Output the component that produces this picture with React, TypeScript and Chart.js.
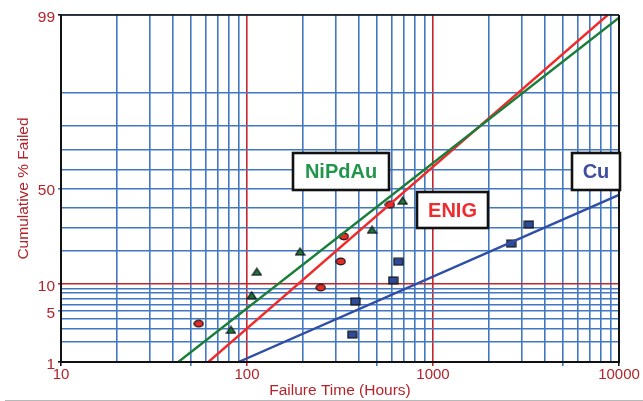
import React, { useEffect, useRef } from 'react';
import { Chart, registerables, LinearScale } from 'chart.js';

Chart.register(...registerables);

// ---------- data ----------
const xTickValues = [10, 20, 30, 40, 50, 60, 70, 80, 90, 100, 200, 300, 400, 500, 600, 700, 800, 900, 1000, 2000, 3000, 4000, 5000, 6000, 7000, 8000, 9000, 10000];
const xTickLabels = [10, 100, 1000, 10000];
const yTickValues = [1, 2, 3, 4, 5, 6, 7, 8, 9, 10, 20, 30, 40, 50, 60, 70, 80, 90, 99];
const yTickLabels = [1, 5, 10, 50, 99];

const nipdauTime = [82, 106, 113, 193, 470, 687];
const nipdauPct = [2.9, 7.6, 13.2, 19.9, 29.0, 43.5];
const enigTime = [55, 249, 319, 332, 587];
const enigPct = [3.5, 9.2, 16.4, 26.0, 41.4];
const cuTime = [368, 382, 610, 651, 2630, 3280];
const cuPct = [2.5, 6.5, 10.9, 16.3, 23.0, 31.5];

const nipdauFitTime = [42.7, 10000];
const nipdauFitPct = [1, 98.9];
const enigFitTime = [62, 8690];
const enigFitPct = [1, 99];
const cuFitTime = [90, 10000];
const cuFitPct = [1, 46.6];

// ---------- colours ----------
const GRID_BLUE = '#4278c2';
const GRID_RED = '#c4262e';
const LABEL_RED = '#b5232a';
const GREEN_LINE = '#1b7d3a';
const RED_LINE = '#f02a2a';
const BLUE_LINE = '#2f4fa6';
const FONT = "'Liberation Sans', Arial, sans-serif";

// ---------- normal probability helpers ----------
function probit(p: number): number {
  const a = [-3.969683028665376e1, 2.209460984245205e2, -2.759285104469687e2, 1.38357751867269e2, -3.066479806614716e1, 2.506628277459239];
  const b = [-5.447609879822406e1, 1.615858368580409e2, -1.556989798598866e2, 6.680131188771972e1, -1.328068155288572e1];
  const c = [-7.784894002430293e-3, -3.223964580411365e-1, -2.400758277161838, -2.549732539343734, 4.374664141464968, 2.938163982698783];
  const d = [7.784695709041462e-3, 3.224671290700398e-1, 2.445134137142996, 3.754408661907416];
  const pl = 0.02425;
  const ph = 1 - pl;
  if (p <= 0) return -8;
  if (p >= 1) return 8;
  let q: number, r: number;
  if (p < pl) {
    q = Math.sqrt(-2 * Math.log(p));
    return (((((c[0] * q + c[1]) * q + c[2]) * q + c[3]) * q + c[4]) * q + c[5]) / ((((d[0] * q + d[1]) * q + d[2]) * q + d[3]) * q + 1);
  }
  if (p <= ph) {
    q = p - 0.5;
    r = q * q;
    return ((((((a[0] * r + a[1]) * r + a[2]) * r + a[3]) * r + a[4]) * r + a[5]) * q) / (((((b[0] * r + b[1]) * r + b[2]) * r + b[3]) * r + b[4]) * r + 1);
  }
  q = Math.sqrt(-2 * Math.log(1 - p));
  return -(((((c[0] * q + c[1]) * q + c[2]) * q + c[3]) * q + c[4]) * q + c[5]) / ((((d[0] * q + d[1]) * q + d[2]) * q + d[3]) * q + 1);
}

function normCdf(z: number): number {
  const t = 1 / (1 + 0.3275911 * Math.abs(z) / Math.SQRT2);
  const y = 1 - (((((1.061405429 * t - 1.453152027) * t) + 1.421413741) * t - 0.284496736) * t + 0.254829592) * t * Math.exp(-(z * z) / 2);
  return z >= 0 ? 0.5 * (1 + y) : 0.5 * (1 - y);
}

// ---------- normal-probability (percent) scale ----------
class ProbitScale extends (LinearScale as any) {
  static id = 'probit';
  static defaults = {};
  _zStart = 0;
  _zRange = 1;
  determineDataLimits() {
    this.min = this.options.min;
    this.max = this.options.max;
  }
  buildTicks() {
    return yTickValues.map((v) => ({ value: v }));
  }
  configure() {
    super.configure();
    this._zStart = probit(this.min / 100);
    this._zRange = probit(this.max / 100) - this._zStart;
  }
  getPixelForValue(v: number) {
    if (v === null || v === undefined) return NaN;
    return this.getPixelForDecimal((probit(v / 100) - this._zStart) / this._zRange);
  }
  getValueForPixel(px: number) {
    return normCdf(this._zStart + this.getDecimalForPixel(px) * this._zRange) * 100;
  }
}
Chart.register(ProbitScale as any);

// ---------- marker images ----------
function makeMarker(shape: string, fill: string): HTMLCanvasElement {
  const cv = document.createElement('canvas');
  cv.width = 11;
  cv.height = 9;
  const g = cv.getContext('2d')!;
  g.fillStyle = fill;
  g.strokeStyle = '#111';
  g.lineWidth = 1.2;
  g.beginPath();
  if (shape === 'ellipse') {
    g.ellipse(5.5, 4.5, 4.6, 3.3, 0, 0, Math.PI * 2);
  } else if (shape === 'triangle') {
    g.moveTo(5.5, 1);
    g.lineTo(10, 7.8);
    g.lineTo(1, 7.8);
    g.closePath();
  } else {
    g.rect(1, 1.2, 9, 6.6);
  }
  g.fill();
  g.stroke();
  return cv;
}

const boxes = [
  { text: 'NiPdAu', color: '#21964a', x0: 293, y0: 153, x1: 389, y1: 190 },
  { text: 'ENIG', color: '#ee2b2f', x0: 417, y0: 192, x1: 488, y1: 228 },
  { text: 'Cu', color: '#3f4f9f', x0: 572, y0: 153, x1: 620, y1: 190 },
];

const decorPlugin = {
  id: 'decor',
  afterDatasetsDraw(chart: any) {
    const { ctx, chartArea: a } = chart;
    ctx.save();
    ctx.strokeStyle = '#111';
    ctx.lineWidth = 2;
    ctx.beginPath();
    ctx.moveTo(a.left, a.top);
    ctx.lineTo(a.left, a.bottom);
    ctx.lineTo(a.right, a.bottom);
    ctx.lineTo(a.right, a.top);
    ctx.stroke();
    ctx.lineWidth = 1.4;
    ctx.beginPath();
    ctx.moveTo(a.left, a.top);
    ctx.lineTo(a.right, a.top);
    ctx.stroke();

    for (const b of boxes) {
      ctx.fillStyle = '#fff';
      ctx.fillRect(b.x0, b.y0, b.x1 - b.x0, b.y1 - b.y0);
      ctx.lineWidth = 2.6;
      ctx.strokeStyle = '#111';
      ctx.strokeRect(b.x0, b.y0, b.x1 - b.x0, b.y1 - b.y0);
      ctx.fillStyle = b.color;
      ctx.font = `bold 20px ${FONT}`;
      ctx.textAlign = 'center';
      ctx.textBaseline = 'middle';
      ctx.fillText(b.text, (b.x0 + b.x1) / 2, (b.y0 + b.y1) / 2 + 1);
    }

    ctx.strokeStyle = '#b8b8b8';
    ctx.lineWidth = 1;
    ctx.beginPath();
    ctx.moveTo(5, 400.5);
    ctx.lineTo(643, 400.5);
    ctx.stroke();
    ctx.restore();
  },
};

function pts(xs: number[], ys: number[]) {
  return xs.map((x, i) => ({ x, y: ys[i] }));
}

export default function App() {
  const ref = useRef<HTMLCanvasElement>(null);

  useEffect(() => {
    if (!ref.current) return;
    const tri = makeMarker('triangle', '#1d7a3c');
    const ell = makeMarker('ellipse', '#e52a2a');
    const sq = makeMarker('rect', '#2d4b9c');

    const fitLine = (label: string, xs: number[], ys: number[], color: string) => ({
      label,
      data: pts(xs, ys),
      showLine: true,
      borderColor: color,
      borderWidth: 2.4,
      pointRadius: 0,
      fill: false,
    });
    const markers = (label: string, xs: number[], ys: number[], img: HTMLCanvasElement) => ({
      label,
      data: pts(xs, ys),
      showLine: false,
      pointStyle: img,
      pointRadius: 5,
    });

    const chart = new Chart(ref.current, {
      type: 'scatter',
      data: {
        datasets: [
          fitLine('NiPdAu fit', nipdauFitTime, nipdauFitPct, GREEN_LINE),
          fitLine('ENIG fit', enigFitTime, enigFitPct, RED_LINE),
          fitLine('Cu fit', cuFitTime, cuFitPct, BLUE_LINE),
          markers('NiPdAu', nipdauTime, nipdauPct, tri),
          markers('ENIG', enigTime, enigPct, ell),
          markers('Cu', cuTime, cuPct, sq),
        ] as any,
      },
      options: {
        responsive: false,
        animation: false,
        devicePixelRatio: 1,
        events: [],
        layout: { padding: { left: 0, top: 15, right: 24, bottom: 0 } },
        plugins: { legend: { display: false }, tooltip: { enabled: false } },
        scales: {
          x: {
            type: 'logarithmic',
            min: 10,
            max: 10000,
            afterBuildTicks: (scale: any) => {
              scale.ticks = xTickValues.map((v) => ({ value: v }));
            },
            afterFit: (scale: any) => {
              scale.height = 39;
            },
            border: { display: false },
            grid: {
              color: (c: any) => (c.tick && (c.tick.value === 100 || c.tick.value === 1000) ? GRID_RED : GRID_BLUE),
              lineWidth: 1.6,
              drawTicks: true,
              tickLength: 4,
              tickColor: (c: any) => {
                const v = c.tick && c.tick.value;
                if (v === 10 || v === 10000) return '#111';
                if (v === 100 || v === 1000) return GRID_RED;
                if (v === 50 || v === 500 || v === 5000) return GRID_BLUE;
                return 'rgba(0,0,0,0)';
              },
            },
            ticks: {
              autoSkip: false,
              maxRotation: 0,
              padding: 0,
              color: LABEL_RED,
              font: { family: FONT, size: 15 },
              callback: (v: any) => (xTickLabels.includes(Number(v)) ? String(v) : ''),
            },
            title: {
              display: true,
              text: 'Failure Time (Hours)',
              color: LABEL_RED,
              font: { family: FONT, size: 15.5 },
              padding: { top: 0, bottom: 1 },
            },
          },
          y: {
            type: 'probit' as any,
            min: 1,
            max: 99,
            afterFit: (scale: any) => {
              scale.width = 61;
            },
            border: { display: false },
            grid: {
              color: (c: any) => (c.tick && c.tick.value === 10 ? GRID_RED : GRID_BLUE),
              lineWidth: 1.6,
              drawTicks: true,
              tickLength: 3,
              tickColor: (c: any) => {
                const v = c.tick && c.tick.value;
                if (v === 1 || v === 99) return '#111';
                if (v === 10) return GRID_RED;
                if (v === 5 || v === 50) return GRID_BLUE;
                return 'rgba(0,0,0,0)';
              },
            },
            ticks: {
              autoSkip: false,
              padding: 3,
              labelOffset: 2.5,
              color: LABEL_RED,
              font: { family: FONT, size: 15.5 },
              callback: (v: any) => (yTickLabels.includes(Number(v)) ? String(v) : ''),
            },
            title: {
              display: true,
              text: 'Cumulative % Failed',
              color: LABEL_RED,
              font: { family: FONT, size: 15.5 },
              padding: { top: 14.6, bottom: 0 },
            },
          },
        } as any,
      },
      plugins: [decorPlugin],
    });
    return () => chart.destroy();
  }, []);

  return (
    <div style={{ position: 'fixed', left: 0, top: 0, width: 643, height: 401, background: '#fff' }}>
      <canvas ref={ref} width={643} height={401} style={{ display: 'block' }} />
    </div>
  );
}
